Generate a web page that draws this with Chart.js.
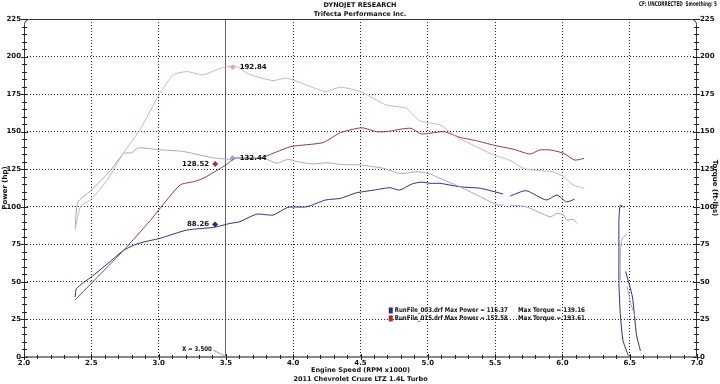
<!DOCTYPE html>
<html>
<head>
<meta charset="utf-8">
<script src="https://cdn.jsdelivr.net/npm/chart.js@4"></script>
<style>
  html, body { margin: 0; padding: 0; background: #fff; }
  #wrap { width: 720px; height: 384px; }
</style>
</head>
<body>
<div id="wrap"><canvas id="dyno"></canvas></div>
<script>
// RunFile_003 (blue) power / torque
const blueHpRpm = [2.38, 2.39, 2.5, 2.62, 2.74, 2.85, 3.01, 3.21, 3.41, 3.53, 3.6, 3.73, 3.85, 3.96, 4.1, 4.24, 4.35, 4.47, 4.6, 4.72, 4.79, 4.88, 4.95, 5.02, 5.09, 5.24, 5.39, 5.56, 5.585, 5.61, 5.73, 5.88, 5.96, 6.03, 6.09];
const blueHp    = [40, 45.6, 53.3, 62, 71, 75.6, 79, 84.5, 86.3, 88.9, 90, 95.1, 94.5, 99.6, 100, 104.5, 105.6, 109.3, 111.1, 112.7, 111.1, 115.1, 116.4, 115.6, 115.6, 113.3, 112.3, 108.5, null, 107.1, 110.7, 104.5, 107.8, 103.3, 105];
const blueTqRpm = [2.38, 2.40, 2.5, 2.64, 2.74, 2.8, 2.85, 3.0, 3.17, 3.25, 3.4, 3.53, 3.57, 3.78, 3.88, 3.96, 4.03, 4.15, 4.25, 4.35, 4.5, 4.67, 4.79, 4.92, 5.02, 5.09, 5.24, 5.39, 5.51, 5.56, 5.585, 5.61, 5.73, 5.91, 5.96, 6.01, 6.03, 6.08, 6.11];
const blueTq    = [85.6, 103, 111, 124, 135.5, 136, 139.2, 138, 137, 135.6, 132.7, 131.6, 132.4, 132.3, 129, 131.6, 130, 128.5, 129.3, 128.2, 127.8, 125.6, 122.2, 123.3, 121.8, 118.9, 113.3, 106.7, 101.5, 101.1, null, 101.1, 100, 93.3, 95.6, 94.5, 91.1, 91.6, 88.9];

// RunFile_015 (red) power / torque
const redHpRpm = [2.38, 2.5, 2.62, 2.74, 2.94, 3.0, 3.16, 3.26, 3.33, 3.5, 3.57, 3.75, 3.98, 4.22, 4.35, 4.51, 4.62, 4.69, 4.87, 4.95, 5.02, 5.12, 5.24, 5.36, 5.49, 5.64, 5.76, 5.83, 5.91, 6.01, 6.09, 6.16];
const redHp    = [38, 49, 60, 71, 91, 97.8, 114.5, 116.7, 118.9, 127.8, 132.3, 132.3, 140, 142.7, 149.3, 152.6, 150, 150, 152.3, 148.5, 149, 150, 146.2, 144, 141, 138.2, 135.1, 137.8, 137.8, 135.6, 131.1, 132.2];
const redTqRpm = [2.38, 2.42, 2.5, 2.62, 2.74, 2.86, 3.01, 3.11, 3.21, 3.33, 3.46, 3.57, 3.68, 3.85, 3.95, 4.1, 4.24, 4.35, 4.5, 4.69, 4.84, 4.94, 5.09, 5.21, 5.36, 5.49, 5.61, 5.71, 5.83, 5.93, 6.01, 6.08, 6.16];
const redTq    = [85, 100, 105, 118, 136, 151, 175.6, 187.8, 190, 187.8, 192.2, 193.6, 188, 184, 185.6, 181, 176.7, 179.6, 176.7, 167.8, 165.6, 157.3, 154.5, 146.7, 140, 134.5, 131, 125.6, 124, 123.3, 120, 114.5, 112.3];

// coast-down tails near 6.5k
const navyTailARpm = [6.46, 6.43, 6.42, 6.42, 6.42, 6.43, 6.45, 6.49];
const navyTailA    = [99.6, 101, 91, 71, 49, 29, 11, 1];
const navyTailBRpm = [6.47, 6.52, 6.55, 6.58];
const navyTailB    = [57, 40, 15, 4];
const lavTailARpm  = [6.48, 6.44, 6.43, 6.43];
const lavTailA     = [82, 78, 65, 51];
const lavTailBRpm  = [6.48, 6.51, 6.54];
const lavTailB     = [47, 35, 27];

// cursor markers
const markerRpm = [3.55, 3.55, 3.42, 3.42];
const markerVal = [192.84, 132.44, 128.52, 88.26];
const markerSide = ['right', 'right', 'left', 'left'];

const legendRuns = ['RunFile_003.drf', 'RunFile_015.drf'];
const maxPower = [116.37, 152.58];
const maxTorque = [139.16, 193.61];
const cursorRpm = 3.5;

const NAVY = '#2c2f78', LAV = '#a2a4d2', DRED = '#8e3c42', PINK = '#d8afb4';
const FONT = 'DejaVu Sans';

const pts = (xs, ys) => xs.map((x, i) => ({ x: x, y: ys[i] }));
const line = (data, color, axis) => ({
  data: data, borderColor: color, borderWidth: 1, pointRadius: 0,
  tension: 0.2, spanGaps: false, yAxisID: axis
});

const markerColors = [PINK, LAV, DRED, NAVY];
const markerSets = markerRpm.map((x, i) => ({
  type: 'scatter', data: [{ x: x, y: markerVal[i] }], pointStyle: 'rectRot',
  pointRadius: 2.5, backgroundColor: markerColors[i], borderColor: markerColors[i],
  yAxisID: 'y', isMarker: true, side: markerSide[i]
}));

const dynoDecor = {
  id: 'dynoDecor',
  afterDatasetsDraw(chart) {
    const { ctx, chartArea: a, scales } = chart;
    const xs = scales.x, yl = scales.y;
    ctx.save();
    // frame with rounded top corners
    ctx.strokeStyle = '#333';
    ctx.lineWidth = 1;
    ctx.beginPath();
    ctx.moveTo(a.left + 0.5, a.bottom);
    ctx.lineTo(a.left + 0.5, a.top + 6);
    ctx.arcTo(a.left + 0.5, a.top + 0.5, a.left + 6, a.top + 0.5, 5);
    ctx.lineTo(a.right - 6, a.top + 0.5);
    ctx.arcTo(a.right - 0.5, a.top + 0.5, a.right - 0.5, a.top + 6, 5);
    ctx.lineTo(a.right - 0.5, a.bottom);
    ctx.stroke();
    // bottom axis
    ctx.strokeStyle = '#888';
    ctx.lineWidth = 2;
    ctx.beginPath();
    ctx.moveTo(a.left, a.bottom);
    ctx.lineTo(a.right, a.bottom);
    ctx.stroke();
    // minor ticks
    ctx.strokeStyle = '#222';
    ctx.lineWidth = 1;
    ctx.beginPath();
    for (let i = 0; i <= 45; i++) {
      const py = Math.round(yl.getPixelForValue(i * 5)) + 0.5;
      const len = i % 5 === 0 ? 3 : 2;
      ctx.moveTo(a.left - len, py); ctx.lineTo(a.left + len + 1, py);
      ctx.moveTo(a.right - len - 1, py); ctx.lineTo(a.right + len, py);
    }
    for (let i = 0; i <= 50; i++) {
      const px = Math.round(xs.getPixelForValue(2 + i * 0.1)) + 0.5;
      const len = i % 5 === 0 ? 3 : 2;
      ctx.moveTo(px, a.bottom - len); ctx.lineTo(px, a.bottom + len);
    }
    ctx.stroke();

    // marker labels
    ctx.fillStyle = '#111';
    ctx.font = 'bold 7px "' + FONT + '"';
    ctx.textBaseline = 'middle';
    chart.data.datasets.forEach((ds, i) => {
      if (!ds.isMarker) return;
      const p = chart.getDatasetMeta(i).data[0];
      const right = ds.side === 'right';
      ctx.textAlign = right ? 'left' : 'right';
      ctx.fillText(ds.data[0].y.toFixed(2), p.x + (right ? 7 : -6), p.y);
    });

    // cursor label
    const cx = xs.getPixelForValue(cursorRpm);
    ctx.textAlign = 'right';
    ctx.font = 'bold 6.5px "' + FONT + '"';
    ctx.fillText('X = ' + cursorRpm.toFixed(3), cx - 14, a.bottom - 8, 30);
    ctx.strokeStyle = '#999';
    ctx.beginPath();
    ctx.moveTo(cx - 13, a.bottom - 7);
    ctx.lineTo(cx - 1, a.bottom - 1);
    ctx.stroke();

    // legend
    ctx.font = 'bold 6.5px "' + FONT + '"';
    ctx.textAlign = 'left';
    const lx = xs.getPixelForValue(4.71), lx2 = xs.getPixelForValue(5.67);
    [NAVY, '#b02a2a'].forEach((c, i) => {
      const ly = yl.getPixelForValue(31) + i * 8;
      ctx.fillStyle = c;
      ctx.fillRect(lx, ly - 3, 4, 6);
      ctx.fillStyle = '#111';
      ctx.fillText(legendRuns[i] + ' Max Power = ' + maxPower[i].toFixed(2), lx + 6, ly, 113);
      ctx.fillText('Max Torque = ' + maxTorque[i].toFixed(2), lx2, ly, 67);
    });

    // corner note
    ctx.textAlign = 'right';
    ctx.fillText('CF: UNCORRECTED  Smoothing: 5', 717, 4, 78);
    ctx.restore();
  }
};

const gridColor = (c) => {
  const v = c.tick && c.tick.value;
  if (c.scale.axis === 'x') {
    if (v === 2 || v === 7) return 'rgba(0,0,0,0)';
    return v === cursorRpm ? '#666' : '#222';
  }
  return (v === 0 || v === 225) ? 'rgba(0,0,0,0)' : '#222';
};
const gridDash = (c) => (c.tick && c.tick.value === cursorRpm && c.scale.axis === 'x') ? [] : [1, 2];
const tickFont = { family: FONT, size: 7, weight: 'bold' };

new Chart(document.getElementById('dyno'), {
  type: 'line',
  data: {
    datasets: [
      line(pts(redTqRpm, redTq), PINK, 'y1'),
      line(pts(blueTqRpm, blueTq), LAV, 'y1'),
      line(pts(lavTailARpm, lavTailA), LAV, 'y1'),
      line(pts(lavTailBRpm, lavTailB), LAV, 'y1'),
      line(pts(redHpRpm, redHp), DRED, 'y'),
      line(pts(blueHpRpm, blueHp), NAVY, 'y'),
      line(pts(navyTailARpm, navyTailA), NAVY, 'y'),
      line(pts(navyTailBRpm, navyTailB), NAVY, 'y'),
      ...markerSets
    ]
  },
  options: {
    responsive: true,
    maintainAspectRatio: false,
    animation: false,
    devicePixelRatio: 1,
    layout: { padding: 0 },
    plugins: {
      legend: { display: false },
      tooltip: { enabled: false },
      title: {
        display: true,
        text: ['DYNOJET RESEARCH', 'Trifecta Performance Inc.'],
        color: '#111',
        font: { family: FONT, size: 6.5, weight: 'bold', lineHeight: '9px' },
        padding: { top: 1, bottom: 0 }
      }
    },
    scales: {
      x: {
        type: 'linear', min: 2, max: 7,
        afterFit: (s) => { s.height = 27; },
        ticks: { stepSize: 0.5, callback: (v) => v.toFixed(1), color: '#111', font: tickFont, padding: 2, maxRotation: 0 },
        grid: { color: gridColor, drawTicks: false },
        border: { display: false, dash: gridDash },
        title: {
          display: true,
          text: ['Engine Speed (RPM x1000)', '2011 Chevrolet Cruze LTZ 1.4L Turbo'],
          color: '#111',
          font: { family: FONT, size: 6.5, weight: 'bold', lineHeight: '9px' },
          padding: { top: 0, bottom: 0 }
        }
      },
      y: {
        position: 'left', min: 0, max: 225,
        afterFit: (s) => { s.width = 24; },
        ticks: { stepSize: 25, color: '#111', font: tickFont, padding: 3 },
        grid: { color: gridColor, drawTicks: false },
        border: { display: false, dash: [1, 2] },
        title: { display: true, text: 'Power (hp)', color: '#111', font: { family: FONT, size: 7, weight: 'bold', lineHeight: '8px' }, padding: { top: 1, bottom: 0 } }
      },
      y1: {
        position: 'right', min: 0, max: 225,
        afterFit: (s) => { s.width = 23; },
        ticks: { stepSize: 25, color: '#111', font: tickFont, padding: 3 },
        grid: { drawOnChartArea: false, drawTicks: false },
        border: { display: false },
        title: { display: true, text: 'Torque (ft-lbs)', color: '#111', font: { family: FONT, size: 7, weight: 'bold', lineHeight: '8px' }, padding: { top: 1, bottom: 0 } }
      }
    }
  },
  plugins: [dynoDecor]
});
</script>
</body>
</html>
